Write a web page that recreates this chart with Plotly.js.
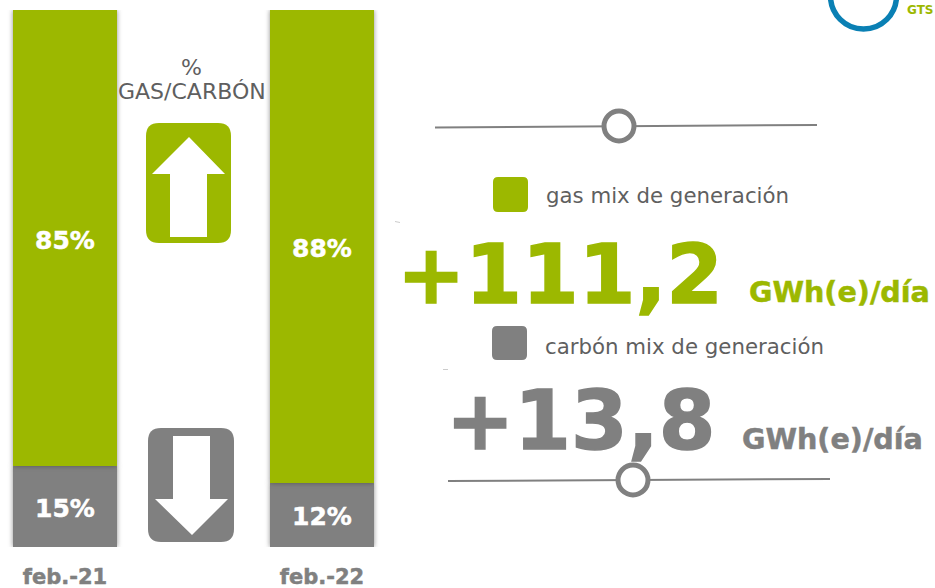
<!DOCTYPE html>
<html><head><meta charset="utf-8">
<script src="https://cdn.plot.ly/plotly-3.0.1.min.js"></script>
<style>
html,body{margin:0;padding:0;background:#fff;overflow:hidden}
#c{width:935px;height:588px}
.barlayer .point path{filter:drop-shadow(0 0 2.5px rgba(50,50,50,.55))}
.bars .bartext{translate:0 2px;stroke:#fff;stroke-width:.5px}
.xtick text{stroke:#808080;stroke-width:.5px}
.annotation[data-index="3"] text{stroke:#9cb800;stroke-width:1.5px}
.annotation[data-index="6"] text{stroke:#808080;stroke-width:1.5px}
.annotation[data-index="4"] text{stroke:#9cb800;stroke-width:.5px}
.annotation[data-index="7"] text{stroke:#808080;stroke-width:.5px}
</style></head><body><div id="c"></div>
<script>
var categories=["feb.-21","feb.-22"];
var gasShare=[85,88];
var coalShare=[15,12];
var GREEN="#9cb800",GREY="#808080",TXT="#5f5f5f",BLUE="#0a80b4";
var W=935,H=588,MT=10,PB=547;
function px(x){return x/W}
function py(y){return (PB-y)/(PB-MT)}
function P(pts){return pts.map(function(p,i){return (i?"L":"M")+px(p[0])+","+py(p[1])}).join(" ")+" Z"}
function roundRect(x0,y0,x1,y1,r){
  var q=function(a,b,c,d){return "Q"+px(a)+","+py(b)+" "+px(c)+","+py(d)};
  var l=function(a,b){return "L"+px(a)+","+py(b)};
  return "M"+px(x0+r)+","+py(y0)+" "+l(x1-r,y0)+" "+q(x1,y0,x1,y0+r)+" "+l(x1,y1-r)+" "+q(x1,y1,x1-r,y1)+" "+l(x0+r,y1)+" "+q(x0,y1,x0,y1-r)+" "+l(x0,y0+r)+" "+q(x0,y0,x0+r,y0)+" Z";
}
function shape(path,fill){return {type:"path",xref:"paper",yref:"paper",path:path,fillcolor:fill,line:{width:0}}}
function line(x0,y0,x1,y1,col,w){return {type:"line",xref:"paper",yref:"paper",x0:px(x0),y0:py(y0),x1:px(x1),y1:py(y1),line:{color:col||GREY,width:w||2}}}
function circle(cx,cy,r,w,col,fill){return {type:"circle",xref:"paper",yref:"paper",x0:px(cx-r),x1:px(cx+r),y0:py(cy+r),y1:py(cy-r),line:{color:col,width:w},fillcolor:fill}}
function label(t,x,y,size,col,bold,anchor){return {xref:"paper",yref:"paper",x:px(x),y:py(y),text:bold?"<b>"+t+"</b>":t,showarrow:false,xanchor:anchor||"left",yanchor:"middle",align:"center",font:{family:"DejaVu Sans, Verdana, sans-serif",size:size,color:col}}}
var shapes=[
  shape(roundRect(146,123,231,243,13),GREEN),
  shape(P([[189,137],[225,174],[207,174],[207,237],[170,237],[170,174],[152,174]]),"#fff"),
  shape(roundRect(148,428,234,542,13),GREY),
  shape(P([[192,535],[228,499],[210,499],[210,436],[173,436],[173,499],[155,499]]),"#fff"),
  line(435,127.5,817,125),
  circle(619,126,15,5,GREY,"#fff"),
  line(448,481,830,479),
  circle(633,480,15,5,GREY,"#fff"),
  shape(roundRect(493,177,528,212,5),GREEN),
  shape(roundRect(492,326,527,360,5),GREY),
  circle(863.5,-4,33,5.5,BLUE,"rgba(0,0,0,0)"),
  line(395,221.5,400,222.5,"#cccccc",1),
  line(443,369.5,448,369.5,"#cccccc",1)
];
var annotations=[
  label("%",191,67,22,TXT,false,"center"),
  label("GAS/CARBÓN",192,91,22,TXT,false,"center"),
  label("gas mix de generación",544,196,21.3,TXT,false),
  label("+111,2",395,274,81.5,GREEN,true),
  label("GWh(e)/día",747,292,28.6,GREEN,true),
  label("carbón mix de generación",543,346.5,21.3,TXT,false),
  label("+13,8",444,420,81.5,GREY,true),
  label("GWh(e)/día",740,439,28.6,GREY,true),
  label("GTS",905,10,12,GREEN,true)
];
var common={type:"bar",x:categories,width:104/257,textposition:"inside",insidetextanchor:"middle",constraintext:"none",cliponaxis:false,
  textfont:{family:"DejaVu Sans, Verdana, sans-serif",size:25,color:"#fff"},hoverinfo:"skip"};
var traces=[
  Object.assign({},common,{y:coalShare,name:"carbón",marker:{color:GREY},text:coalShare.map(function(v){return "<b>"+v+"%</b>"})}),
  Object.assign({},common,{y:gasShare,name:"gas",marker:{color:GREEN},text:gasShare.map(function(v){return "<b>"+v+"%</b>"})})
];
var layout={width:W,height:H,paper_bgcolor:"#fff",plot_bgcolor:"#fff",showlegend:false,barmode:"stack",
  margin:{l:0,r:0,t:MT,b:H-PB,pad:0},
  xaxis:{type:"category",range:[-65/257,(W-65)/257],showgrid:false,zeroline:false,showline:false,ticks:"",ticklabelstandoff:15,
    tickfont:{family:"DejaVu Sans, Verdana, sans-serif",size:21,color:GREY,weight:"bold"}},
  yaxis:{range:[0,100],visible:false,fixedrange:true},
  shapes:shapes,annotations:annotations};
Plotly.newPlot("c",traces,layout,{displayModeBar:false,staticPlot:true});
</script></body></html>
